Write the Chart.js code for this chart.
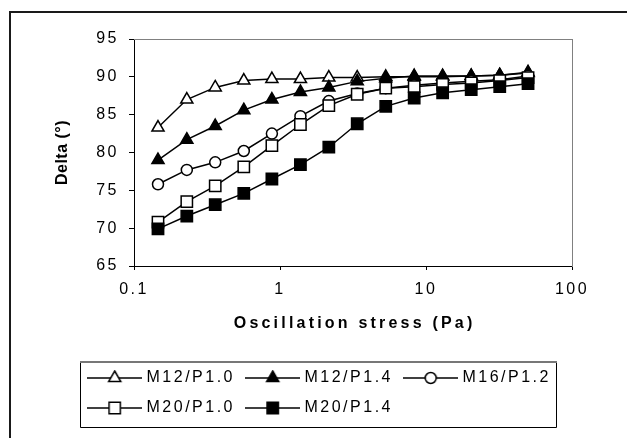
<!DOCTYPE html>
<html lang="en">
<head>
  <meta charset="UTF-8">
  <title>Delta vs oscillation stress</title>
  <script src="https://cdn.jsdelivr.net/npm/chart.js"></script>
  <style>
    html, body { margin: 0; padding: 0; background: #fff; }
    #wrap { position: relative; width: 627px; height: 438px; overflow: hidden; }
    /* outer frame of the figure, runs off the right and bottom edge */
    #frame { position: absolute; left: 9px; top: 11px; width: 700px; height: 600px; border: 2px solid #1a1a1a; }
    #chart { position: absolute; left: 0; top: 0; }
  </style>
</head>
<body>
<div id="wrap">
  <div id="frame"></div>
  <canvas id="chart" width="627" height="438"></canvas>
</div>
<script>
  // ---- data ----
  const stress = [0.146, 0.23, 0.36, 0.565, 0.88, 1.38, 2.16, 3.38, 5.3, 8.3, 13, 20.4, 32, 50];
  const m12p10 = [83.3, 87.0, 88.6, 89.5, 89.7, 89.7, 89.9, 89.9, 90.0, 90.0, 90.0, 90.1, 90.2, 90.5];
  const m12p14 = [79.0, 81.7, 83.5, 85.6, 87.0, 88.0, 88.6, 89.4, 89.8, 90.1, 90.1, 90.1, 90.2, 90.6];
  const m16p12 = [75.8, 77.7, 78.7, 80.2, 82.5, 84.8, 86.8, 87.8, 88.5, 88.9, 89.2, 89.4, 89.6, 90.1];
  const m20p10 = [70.8, 73.5, 75.6, 78.1, 80.9, 83.7, 86.2, 87.7, 88.5, 88.7, 89.0, 89.2, 89.5, 89.9];
  const m20p14 = [69.9, 71.6, 73.1, 74.6, 76.5, 78.4, 80.7, 83.8, 86.1, 87.2, 87.9, 88.3, 88.7, 89.1];

  const seriesNames = ['M12/P1.0', 'M12/P1.4', 'M16/P1.2', 'M20/P1.0', 'M20/P1.4'];
  const seriesValues = [m12p10, m12p14, m16p12, m20p10, m20p14];

  const xTicks = [0.1, 1, 10, 100];
  const xTickLabels = ['0.1', '1', '10', '100'];
  const yTicks = [65, 70, 75, 80, 85, 90, 95];

  const xTitle = 'Oscillation stress (Pa)';
  const yTitle = 'Delta (°)';

  // marker look per series
  const markers = [
    { style: 'triangle', fill: '#fff', r: 7 },
    { style: 'triangle', fill: '#000', r: 7 },
    { style: 'circle',   fill: '#fff', r: 5.5 },
    { style: 'rect',     fill: '#fff', r: 8 },
    { style: 'rect',     fill: '#000', r: 8 }
  ];

  Chart.defaults.font.family = '"Liberation Sans", Arial, sans-serif';
  Chart.defaults.font.size = 16;
  Chart.defaults.color = '#000';

  // small line + marker picture used as the legend symbol
  function legendIcon(m) {
    const c = document.createElement('canvas');
    c.width = 55; c.height = 16;
    const g = c.getContext('2d');
    g.strokeStyle = '#000';
    g.lineWidth = 1.5;
    g.beginPath(); g.moveTo(0, 8); g.lineTo(55, 8); g.stroke();
    g.fillStyle = m.fill;
    Chart.helpers.drawPoint(g, { pointStyle: m.style, radius: m.r, rotation: 0, borderWidth: 1.5 }, 27.5, 8);
    return c;
  }
  const icons = markers.map(legendIcon);

  const datasets = seriesNames.map((name, i) => ({
    label: name,
    data: stress.map((x, j) => ({ x: x, y: seriesValues[i][j] })),
    borderColor: '#000',
    borderWidth: 1.5,
    tension: 0,
    pointStyle: markers[i].style,
    pointRadius: markers[i].r,
    pointHoverRadius: markers[i].r,
    pointBackgroundColor: markers[i].fill,
    pointBorderColor: '#000',
    pointBorderWidth: 1.5,
    order: seriesNames.length - i   // later series drawn on top
  }));

  // letter spacing of the original print
  const spacing = {
    id: 'spacing',
    beforeUpdate(chart) { chart.ctx.letterSpacing = '2.5px'; },
    beforeDraw(chart) { chart.ctx.letterSpacing = '2.5px'; }
  };

  // axis titles and the box round the legend
  const extras = {
    id: 'extras',
    afterDraw(chart) {
      const ctx = chart.ctx;
      const a = chart.chartArea;
      ctx.save();
      ctx.fillStyle = '#000';
      ctx.textAlign = 'center';
      ctx.textBaseline = 'middle';
      ctx.font = 'bold 16px "Liberation Sans", Arial, sans-serif';
      ctx.letterSpacing = '3.2px';
      ctx.fillText(xTitle, (a.left + a.right) / 2 + 1.6, 324);
      ctx.translate(63, (a.top + a.bottom) / 2);
      ctx.rotate(-Math.PI / 2);
      ctx.letterSpacing = '0.5px';
      ctx.fillText(yTitle, 0, 0);
      ctx.restore();

      const hb = chart.legend.legendHitBoxes;
      if (!hb || !hb.length) return;
      const l = Math.min(...hb.map(h => h.left)) - 11;
      const t = Math.min(...hb.map(h => h.top)) - 8;
      const r = Math.max(...hb.map(h => h.left + h.width)) + 5;
      const b = Math.max(...hb.map(h => h.top + h.height)) + 11;
      ctx.save();
      ctx.strokeStyle = '#000';
      ctx.lineWidth = 1;
      ctx.beginPath();
      ctx.moveTo(Math.round(l) + 0.5, Math.round(t));
      ctx.lineTo(Math.round(l) + 0.5, Math.round(b) + 0.5);
      ctx.lineTo(Math.round(r) + 0.5, Math.round(b) + 0.5);
      ctx.lineTo(Math.round(r) + 0.5, Math.round(t));
      ctx.stroke();
      ctx.strokeStyle = '#777';
      ctx.lineWidth = 2;
      ctx.beginPath();
      ctx.moveTo(Math.round(l), Math.round(t));
      ctx.lineTo(Math.round(r) + 1, Math.round(t));
      ctx.stroke();
      ctx.restore();
    }
  };

  const frameAxis = (pos, fit) => ({
    type: 'linear',
    position: pos,
    display: true,
    ticks: { display: false },
    grid: { drawOnChartArea: false, drawTicks: false },
    border: { display: true, color: '#808080', width: 1 },
    afterFit: fit
  });

  new Chart(document.getElementById('chart'), {
    type: 'line',
    data: { datasets: datasets },
    options: {
      responsive: false,
      animation: false,
      devicePixelRatio: 1,
      layout: { padding: { left: 77, top: 39, right: 0, bottom: 12 } },
      scales: {
        x: {
          type: 'logarithmic',
          position: 'bottom',
          min: 0.1,
          max: 100,
          afterBuildTicks: s => { s.ticks = xTicks.map(v => ({ value: v })); },
          afterFit: s => { s.height = 90; },
          ticks: {
            autoSkip: false,
            maxRotation: 0,
            padding: 10,
            callback: (v, i) => xTickLabels[i]
          },
          grid: { drawOnChartArea: false, drawTicks: true, tickLength: 4, color: '#000' },
          border: { color: '#000', width: 1 }
        },
        y: {
          type: 'linear',
          position: 'left',
          min: 65,
          max: 95,
          afterBuildTicks: s => { s.ticks = yTicks.map(v => ({ value: v })); },
          afterFit: s => { s.width = 57; },
          ticks: { padding: 10 },
          grid: { drawOnChartArea: false, drawTicks: true, tickLength: 5, color: '#000' },
          border: { color: '#000', width: 1 }
        },
        x2: frameAxis('top', s => { s.height = 0; }),
        y2: frameAxis('right', s => { s.width = 55; })
      },
      plugins: {
        tooltip: { enabled: false },
        legend: {
          position: 'bottom',
          align: 'start',
          labels: {
            usePointStyle: true,
            pointStyleWidth: 47.5,
            padding: 14,
            font: { size: 16 },
            color: '#000',
            generateLabels: chart => {
              const items = Chart.defaults.plugins.legend.labels.generateLabels(chart);
              items.sort((p, q) => p.datasetIndex - q.datasetIndex);
              items.forEach(it => { it.pointStyle = icons[it.datasetIndex]; });
              return items;
            }
          }
        }
      }
    },
    plugins: [spacing, extras]
  });
</script>
</body>
</html>
